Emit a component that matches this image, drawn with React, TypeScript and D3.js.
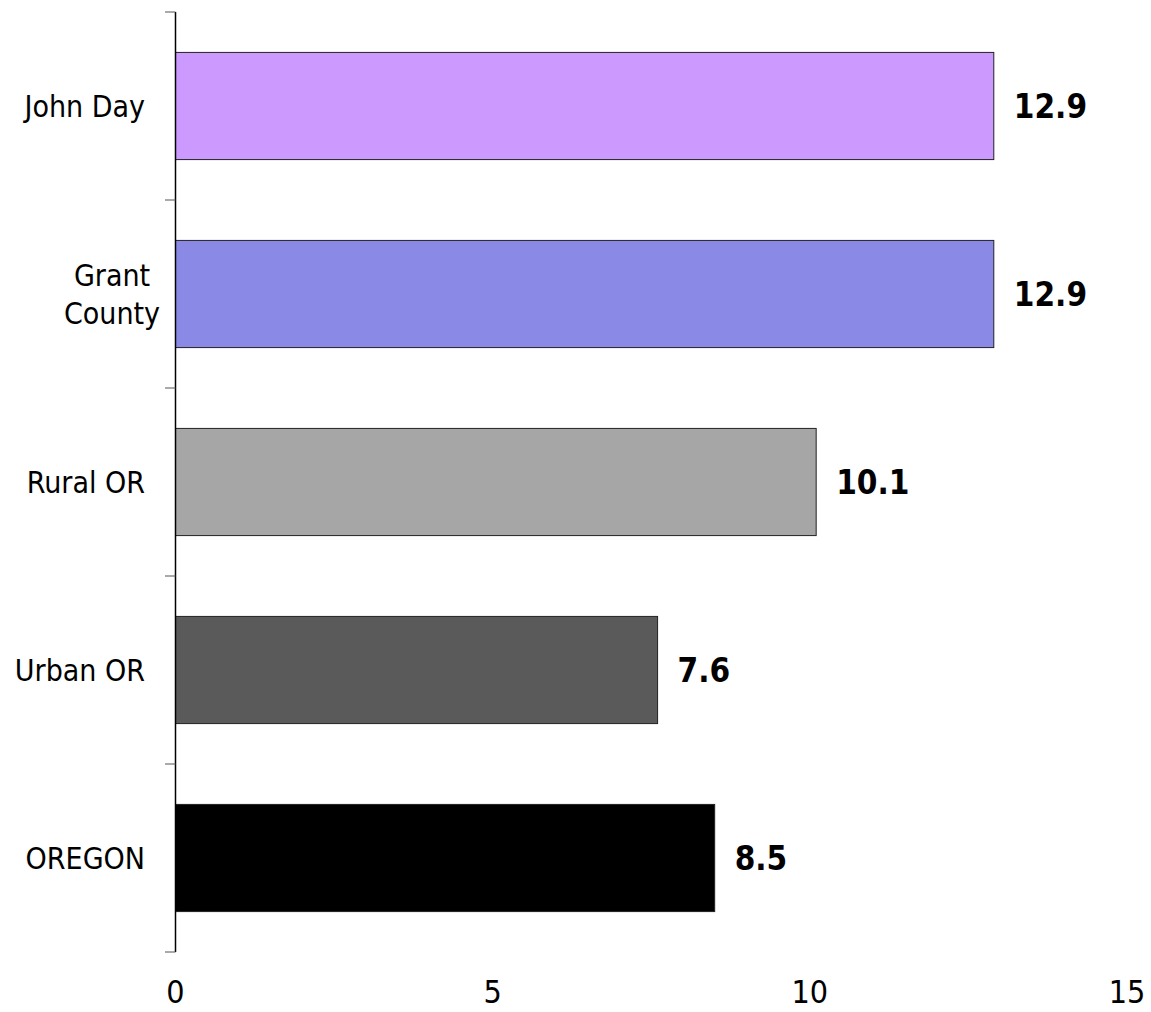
import * as React from "react";
import * as d3 from "d3";

const categories = ["John Day", "Grant County", "Rural OR", "Urban OR", "OREGON"];
const values = [12.9, 12.9, 10.1, 7.6, 8.5];
const colors = ["#cc99ff", "#8a8ae6", "#a6a6a6", "#5a5a5a", "#000000"];
const xTicks = [0, 5, 10, 15];

const W = 1151;
const H = 1012;
const FONT = "'DejaVu Sans Condensed', 'DejaVu Sans', sans-serif";

export default function App() {
  const x = d3.scaleLinear().domain([0, 15]).range([175.5, 1127]);
  const y = d3
    .scaleBand<string>()
    .domain(categories)
    .range([12, 952])
    .paddingInner(0.43)
    .paddingOuter(0.215);
  const step = y.step();

  return (
    <svg
      width={W}
      height={H}
      style={{ position: "absolute", left: 0, top: 0, background: "#fff" }}
    >
      {/* bars */}
      {categories.map((c, i) => (
        <rect
          key={c}
          x={x(0)}
          y={y(c)}
          width={x(values[i]) - x(0)}
          height={y.bandwidth()}
          fill={colors[i]}
          stroke="#222"
          strokeWidth={1}
        />
      ))}
      {/* y axis */}
      <line x1={175.5} x2={175.5} y1={12} y2={952} stroke="#000" strokeWidth={1.5} />
      {d3.range(categories.length + 1).map((k) => (
        <line
          key={k}
          x1={165}
          x2={175.5}
          y1={12 + k * step}
          y2={12 + k * step}
          stroke="#555"
          strokeWidth={1}
        />
      ))}
      {/* category labels */}
      {categories.map((c) => {
        const cy = (y(c) as number) + y.bandwidth() / 2;
        const words = c === "Grant County" ? ["Grant", "County"] : [c];
        const multi = words.length > 1;
        return (
          <text key={c} fontFamily={FONT} fontSize={30} fill="#000">
            {words.map((w, j) => (
              <tspan
                key={w}
                x={multi ? 112 : 145}
                y={cy + 11 + (j - (words.length - 1) / 2) * 38}
                textAnchor={multi ? "middle" : "end"}
              >
                {w}
              </tspan>
            ))}
          </text>
        );
      })}
      {/* value labels */}
      {categories.map((c, i) => (
        <text
          key={c}
          x={x(values[i]) + 20}
          y={(y(c) as number) + y.bandwidth() / 2 + 12}
          fontFamily={FONT}
          fontWeight="bold"
          fontSize={33}
          fill="#000"
        >
          {values[i].toFixed(1)}
        </text>
      ))}
      {/* x tick labels */}
      {xTicks.map((t) => (
        <text
          key={t}
          x={x(t)}
          y={1003}
          textAnchor="middle"
          fontFamily={FONT}
          fontSize={32}
          fill="#000"
        >
          {t}
        </text>
      ))}
    </svg>
  );
}
